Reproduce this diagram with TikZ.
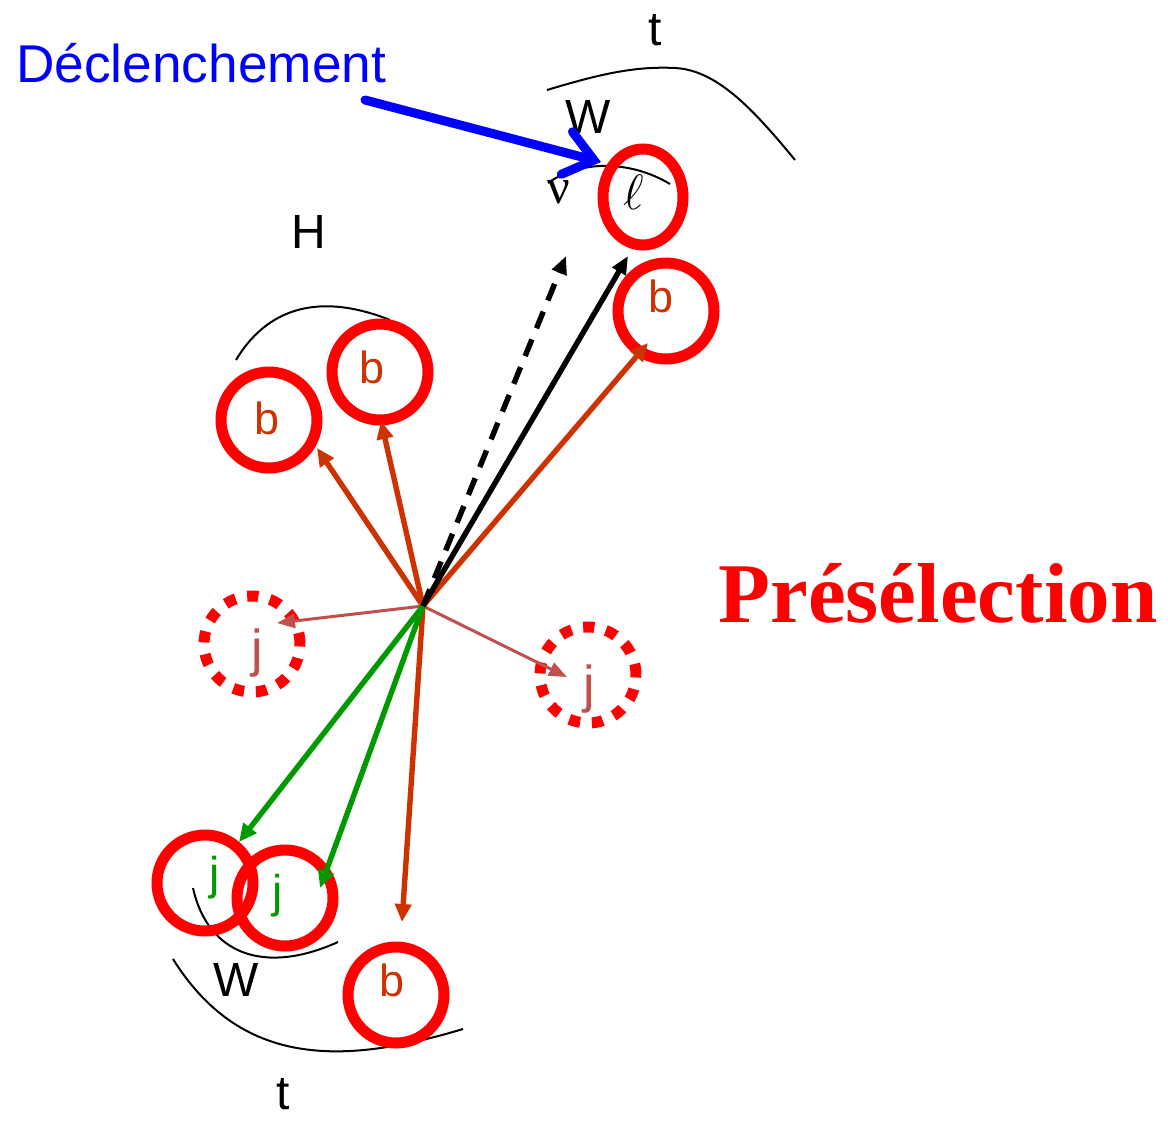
\documentclass[tikz,border=0pt]{standalone}
\usepackage{fontspec}
\setmainfont{Liberation Sans}
\newfontfamily\titleserif{Liberation Serif}
\usetikzlibrary{arrows.meta,shapes.geometric}

\definecolor{rust}{RGB}{204,51,0}
\definecolor{brick}{RGB}{192,80,77}
\definecolor{jetgreen}{RGB}{0,153,0}
\definecolor{ringred}{RGB}{255,0,0}
\definecolor{trigblue}{RGB}{0,0,255}

\tikzset{
  ring/.style={circle, draw=ringred, line width=5.5pt, minimum size=48pt, inner sep=0pt},
  dashring/.style={ring, dash pattern=on 5.6pt off 5.9pt},
  lepring/.style={ellipse, draw=ringred, line width=5.5pt, minimum width=40pt, minimum height=48pt, inner sep=0pt},
  lbl/.style={inner sep=0pt, font=\fontsize{24}{28}\selectfont},
  blbl/.style={lbl, text=rust, font=\fontsize{22.5}{26}\selectfont},
  jlbl/.style={lbl, text=jetgreen, font=\fontsize{23}{27}\selectfont},
  djlbl/.style={lbl, text=brick, font=\fontsize{26}{30}\selectfont},
  decay/.style={black, line width=1pt},
  quark/.style={rust, line width=2.7pt, -{Triangle[length=9pt,width=8pt]}},
  light/.style={brick, line width=1.5pt, -{Triangle[length=9pt,width=7pt]}},
  wjet/.style={jetgreen, line width=2.7pt, -{Triangle[length=9pt,width=8pt]}},
  lepton/.style={black, line width=2.7pt, -{Triangle[length=9pt,width=7.5pt]}},
}

\begin{document}
\begin{tikzpicture}[x=0.5pt, y=-0.5pt]
\useasboundingbox (0,0) rectangle (1168,1121);

% interaction point
\coordinate (O) at (423,606);

% decay arcs
\draw[decay] (547,90) .. controls (600,74) and (635,66) .. (675,68)
                      .. controls (715,70) and (750,105) .. (795,160);
\draw[decay] (548,183) .. controls (580,160) and (630,160) .. (670,184);
\draw[decay] (236,360) .. controls (272,300) and (330,296) .. (390,320);
\draw[decay] (193,888) .. controls (208,955) and (265,975) .. (338,942);
\draw[decay] (173,959) .. controls (240,1066) and (340,1066) .. (463,1029);

% reconstructed objects
\node[lepring] (lep) at (643,197) {};
\node[ring] (bt) at (666,311) {};
\node[ring] (bh1) at (380,372) {};
\node[ring] (bh2) at (269,420) {};
\node[dashring] (jl) at (252,644) {};
\node[dashring] (jr) at (588,675) {};
\node[ring] (wj1) at (205,883) {};
\node[ring] (wj2) at (285,898) {};
\node[ring] (bb) at (396,995) {};

% labels
\node[lbl] (tTop) at (655,30) {t};
\node[lbl] (wTop) at (588,117) {W};
\node[inner sep=0pt, font=\titleserif\fontsize{25}{28}\selectfont] (nu) at (559,192) {ν};
\node[inner sep=0pt, font=\fontsize{27}{30}\selectfont] (ell) at (634,192) {$\ell$};
\node[lbl] (hLab) at (309,232) {H};
\node[lbl] (wBot) at (236,980) {W};
\node[lbl] (tBot) at (283,1094) {t};

\node[blbl] (btL) at (661,296) {b};
\node[blbl] (bh1L) at (372,367) {b};
\node[blbl] (bh2L) at (267,418) {b};
\node[blbl] (bbL) at (392,980) {b};
\node[djlbl] (jlL) at (257,653) {j};
\node[djlbl] (jrL) at (589,689) {j};
\node[jlbl] (wj1L) at (215,878) {j};
\node[jlbl] (wj2L) at (278,896) {j};

% arrow ends
\coordinate (tipNu) at (566,256);
\coordinate (tipLep) at (628,256);
\coordinate (tipBt) at (648,343);
\coordinate (tipBh1) at (381,421);
\coordinate (tipBh2) at (317,448);
\coordinate (tipJl) at (277,623);
\coordinate (tipJr) at (567,677);
\coordinate (tipWj1) at (239,842);
\coordinate (tipWj2) at (320,888);
\coordinate (tipBb) at (402,922);

% momenta
\draw[quark] (O) -- (tipBt);
\draw[quark] (O) -- (tipBh1);
\draw[quark] (O) -- (tipBh2);
\draw[quark] (O) -- (tipBb);
\draw[light] (O) -- (tipJl);
\draw[light] (O) -- (tipJr);
\draw[wjet] (O) -- (tipWj1);
\draw[wjet] (O) -- (tipWj2);
\draw[lepton] (O) -- (tipLep);
\draw[lepton, dash pattern=on 9pt off 6pt] (O) -- (tipNu);

% trigger
\node[anchor=base west, inner sep=0pt, text=trigblue, font=\fontsize{26.6}{30}\selectfont] (trig) at (16,82) {Déclenchement};
\coordinate (trigEnd) at (365,100);
\coordinate (trigTip) at (601,162);
\draw[trigblue, line width=4.5pt, line cap=round, -{Straight Barb[length=14pt,width=22pt,line cap=round]}] (trigEnd) -- (trigTip);

% selection stage
\node[anchor=base west, inner sep=0pt, text=ringred, font=\titleserif\bfseries\fontsize{42.5}{47}\selectfont] (presel) at (718,622) {Présélection};
\end{tikzpicture}
\end{document}
